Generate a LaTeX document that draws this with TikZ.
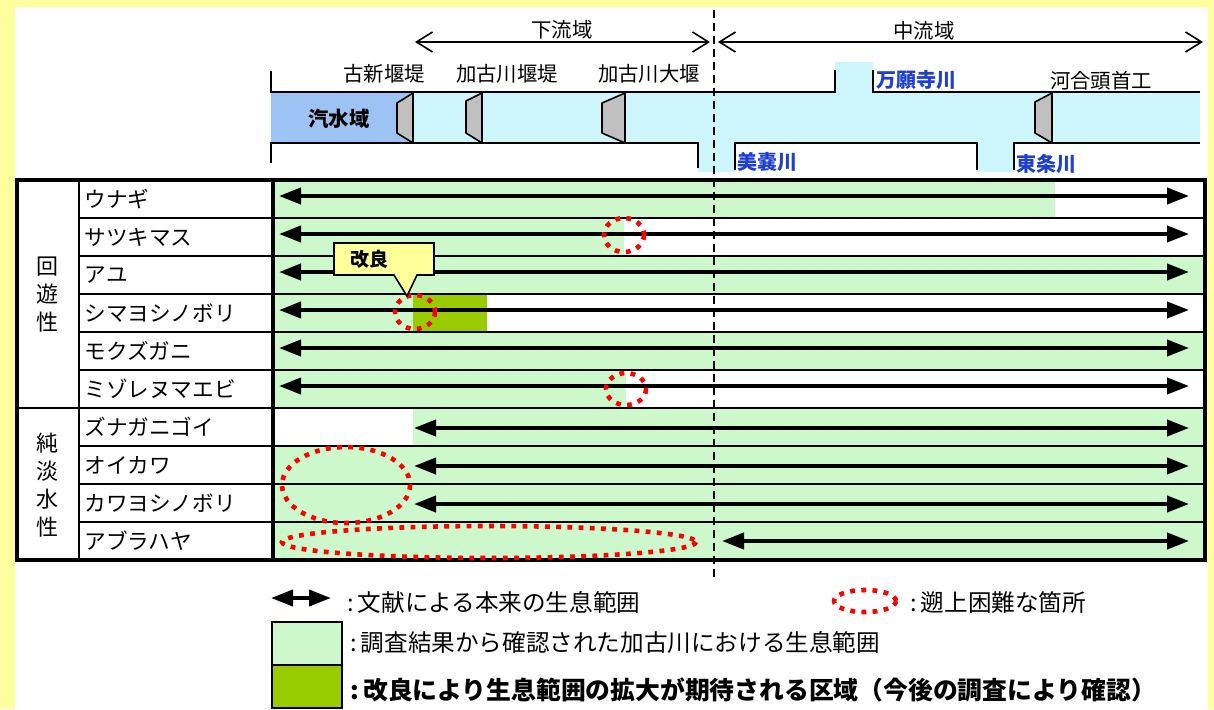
\documentclass[tikz,border=0pt]{standalone}
\usepackage{fontspec}
\setmainfont{Noto Sans CJK JP}
\usetikzlibrary{arrows.meta}
\definecolor{frameyellow}{HTML}{FFFF9E}
\definecolor{water}{HTML}{CCF6FC}
\definecolor{brackish}{HTML}{9CC3F4}
\definecolor{lgreen}{HTML}{CCF8CC}
\definecolor{dgreen}{HTML}{99CC00}
\definecolor{callout}{HTML}{FFFF99}
\definecolor{rivblue}{HTML}{1F3FD0}
\definecolor{weirgray}{HTML}{C0C0C0}
\begin{document}
\begin{tikzpicture}[x=0.5pt,y=-0.5pt,
  bank/.style={line width=1.4pt},
  weir/.style={fill=weirgray, draw=black, line width=0.8pt, line join=round},
  hdrlbl/.style={font=\fontsize{10.2pt}{12pt}\selectfont, inner sep=0pt},
  rivlbl/.style={font=\fontsize{10pt}{12pt}\selectfont\bfseries, text=rivblue, inner sep=0pt, anchor=west},
  rowline/.style={line width=1.2pt},
  habitat/.style={line width=2pt, {Triangle[length=11pt,width=8pt]}-{Triangle[length=11pt,width=8pt]}},
  reach/.style={line width=0.8pt, {Straight Barb[length=8pt,width=10pt]}-{Straight Barb[length=8pt,width=10pt]}},
  blocked/.style={draw=red, line width=2.3pt, dash pattern=on 2.4pt off 3.2pt},
  spec/.style={font=\fontsize{10.8pt}{13pt}\selectfont, anchor=west, inner sep=0pt},
  grp/.style={font=\fontsize{11pt}{14pt}\selectfont, align=center, inner sep=0pt},
  legtxt/.style={font=\fontsize{11.8pt}{13pt}\selectfont, anchor=west, inner sep=0pt},
]
% background
\fill[frameyellow] (0,0) rectangle (1214,709);
\fill[white] (15,7) rectangle (1208,709);
\useasboundingbox (0,0) rectangle (1214,709);

% ---------------- river ----------------
\fill[water] (271,92) rectangle (1200,143);
\fill[water] (835,62) rectangle (873,92);
\fill[water] (698,143) rectangle (735,172);
\fill[water] (977,143) rectangle (1014,172);
\fill[brackish] (271,92) rectangle (410,143);

% ---------------- table fills ----------------
\fill[lgreen] (273,180) rectangle (1055,218);
\fill[lgreen] (273,218) rectangle (624,256);
\fill[lgreen] (273,256) rectangle (1205,294);
\fill[lgreen] (273,294) rectangle (413,332);
\fill[dgreen] (413,294) rectangle (487,332);
\fill[lgreen] (273,332) rectangle (1205,370);
\fill[lgreen] (273,370) rectangle (626,408);
\fill[lgreen] (413,408) rectangle (1205,446);
\fill[lgreen] (273,446) rectangle (1205,560);

% dashed boundary
\coordinate (dtop) at (714,10);
\coordinate (dbot) at (714,578);
\draw[line width=0.8pt, dash pattern=on 4pt off 2.5pt] (dtop) -- (dbot);

% banks
\draw[bank] (271,71) -- (271,92) -- (835,92) -- (835,70);
\draw[bank] (873,70) -- (873,92) -- (1200,92);
\draw[bank] (271,163) -- (271,143) -- (698,143) -- (698,168);
\draw[bank] (735,170) -- (735,143) -- (977,143) -- (977,170);
\draw[bank] (1014,170) -- (1014,143) -- (1200,143);

% weirs
\draw[weir] (397,103) -- (413,93) -- (413,143) -- (397,133) -- cycle;
\draw[weir] (466,101) -- (482,93) -- (482,143) -- (466,133) -- cycle;
\draw[weir] (602,103) -- (625,93) -- (625,143) -- (602,133) -- cycle;
\draw[weir] (1035,102) -- (1052,93) -- (1052,143) -- (1035,133) -- cycle;

% header reaches
\coordinate (dl) at (415,42); \coordinate (dr) at (710,42);
\draw[reach] (dl) -- (dr);
\node[hdrlbl] (karyu) at (562,30) {下流域};
\coordinate (ml) at (718,42); \coordinate (mr) at (1203,42);
\draw[reach] (ml) -- (mr);
\node[hdrlbl] (churyu) at (924,31) {中流域};

% header labels
\node[hdrlbl] (koshin) at (384,74) {古新堰堤};
\node[hdrlbl] (kakoe) at (507,74) {加古川堰堤};
\node[hdrlbl] (kakoo) at (649,74) {加古川大堰};
\node[hdrlbl] (kawai) at (1101,81) {河合頭首工};
\node[hdrlbl, font=\fontsize{10.2pt}{12pt}\selectfont\bfseries] (kisui) at (339,119) {汽水域};
\node[rivlbl] (manganji) at (876,80) {万願寺川};
\node[rivlbl] (mino) at (737,162) {美嚢川};
\node[rivlbl] (tojo) at (1016,164) {東条川};

% ---------------- table lines ----------------
\foreach \yy in {218,256,294,332,370,446,484,522}
  \draw[rowline] (79,\yy) -- (1205,\yy);
\draw[rowline] (17,408) -- (1205,408);
\draw[rowline] (79,180) -- (79,560);
\draw[line width=1.6pt] (273,180) -- (273,560);
\draw[line width=1.6pt] (17,180) rectangle (1205,560);

% group labels
\node[grp] (grpA) at (47,295) {回\\遊\\性};
\node[grp] (grpB) at (47,485) {純\\淡\\水\\性};

% species
\node[spec] (s1) at (84,199) {ウナギ};
\node[spec] (s2) at (84,237) {サツキマス};
\node[spec] (s3) at (84,275) {アユ};
\node[spec] (s4) at (84,313) {シマヨシノボリ};
\node[spec] (s5) at (84,351) {モクズガニ};
\node[spec] (s6) at (84,389) {ミゾレヌマエビ};
\node[spec] (s7) at (84,427) {ズナガニゴイ};
\node[spec] (s8) at (84,465) {オイカワ};
\node[spec] (s9) at (84,503) {カワヨシノボリ};
\node[spec] (s10) at (84,541) {アブラハヤ};

% habitat arrows
\foreach \i/\xl/\yy in {1/279/196,2/279/234,3/279/272,4/279/310,5/279/348,6/279/386,7/414/428,8/414/466,9/414/504,10/722/541}{
  \coordinate (aL\i) at (\xl,\yy);
  \coordinate (aR\i) at (1189,\yy);
  \draw[habitat] (aL\i) -- (aR\i);
}

% blocked points
\draw[blocked] (624,235) ellipse [x radius=20, y radius=17];
\draw[blocked] (626,389) ellipse [x radius=20, y radius=16];
\draw[blocked] (415,312) ellipse [x radius=20, y radius=17];
\draw[blocked] (346,485) ellipse [x radius=64, y radius=38];
\draw[blocked] (489,542) ellipse [x radius=207, y radius=16];

% callout
\draw[fill=callout, line width=0.8pt] (334,243) -- (434,243) -- (434,275) -- (417,275) -- (407,296) -- (394,275) -- (334,275) -- cycle;
\node[font=\fontsize{9.5pt}{11pt}\selectfont\bfseries, inner sep=0pt] (kairyo) at (369,259) {改良};

% ---------------- legend ----------------
\coordinate (lgL) at (271,598); \coordinate (lgR) at (331,598);
\draw[habitat] (lgL) -- (lgR);
\node[legtxt] (lg1) at (347,602) {:\,文献による本来の生息範囲};
\draw[blocked] (865,601) ellipse [x radius=31, y radius=11];
\node[legtxt] (lg2) at (910,602) {:\,遡上困難な箇所};
\draw[line width=1.4pt, fill=lgreen] (272,622) rectangle (342,665);
\draw[line width=1.4pt, fill=dgreen] (272,665) rectangle (342,708);
\node[legtxt] (lg3) at (350,642) {:\,調査結果から確認された加古川における生息範囲};
\node[legtxt, font=\fontsize{12.4pt}{14pt}\selectfont\bfseries] (lg4) at (350,690) {:\,改良により生息範囲の拡大が期待される区域（今後の調査により確認）};
\end{tikzpicture}
\end{document}
